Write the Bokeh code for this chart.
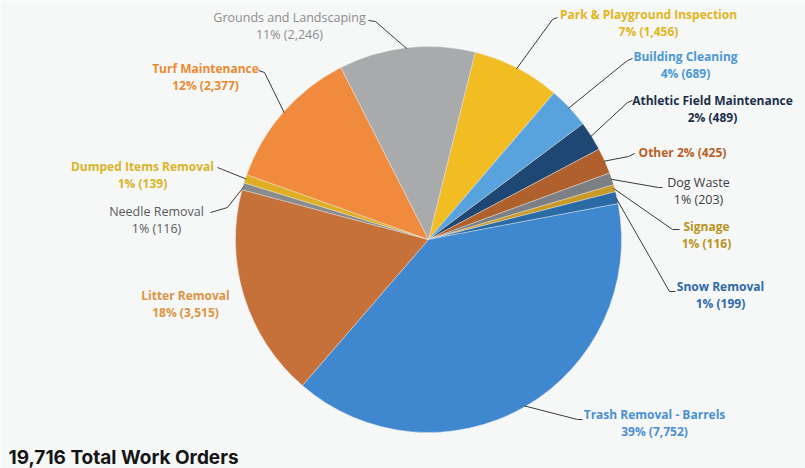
import math
from bokeh.plotting import figure
from bokeh.models import Range1d, ColumnDataSource
from bokeh.core.properties import value
from bokeh.embed import file_html
from bokeh.resources import INLINE

# ---- data (clockwise from the Park & Playground slice) ----
categories = ["Park & Playground Inspection", "Building Cleaning", "Athletic Field Maintenance",
              "Other", "Dog Waste", "Signage", "Snow Removal", "Trash Removal - Barrels",
              "Litter Removal", "Needle Removal", "Dumped Items Removal", "Turf Maintenance",
              "Grounds and Landscaping"]
counts = [1456, 689, 489, 425, 203, 116, 199, 7752, 3515, 116, 139, 2377, 2246]
percents = [7, 4, 2, 2, 1, 1, 1, 39, 18, 1, 1, 12, 11]
total_orders = 19716

slice_colors = ["#f2bd22", "#58a2dd", "#1f4773", "#b0602c", "#7c7f83", "#c99a25", "#2a6ba6",
                "#3f87cf", "#c7713a", "#8a8b8d", "#dfae22", "#f08a3c", "#a9aaac"]
label_colors = ["#e2b51c", "#4a98d6", "#1c2f4a", "#b85f26", "#3c3c3e", "#b89420", "#2f6aa8",
                "#4a8fd4", "#df9442", "#5a5a5c", "#d9b428", "#ec8a30", "#8c8c8e"]
bold_label = [True, True, True, True, False, True, True, True, True, False, True, True, False]

# ---- layout (page pixel coordinates, y down) ----
W, H = 805, 468
CX, CY, R = 428, 239, 193
START_DEG = 14  # clockwise from 12 o'clock

def Y(py):
    return H - py

# label centre x, first line y, leader hook start, leader elbow (None = no leader)
label_pos = [(648, 14), (685, 56), (712, 100), (682, 152), (698, 182), (706, 226), (720, 286),
             (654, 414), (185, 295), (156, 211), (142, 166), (205, 68), (289, 17)]
hook = [((557, 17), (552, 19)), ((632, 58), (627, 60)), ((632, 100), (627, 102)),
        ((634, 153), (628, 156)), ((662, 187), (658, 187)), ((679, 229), (672, 229)),
        ((675, 291), (669, 291)), ((582, 419), (577, 419)), None,
        ((210, 212), (227, 207)), ((217, 167), (222, 169)), ((258, 70), (264, 72)),
        ((368, 20), (375, 21))]

tot = sum(counts)
p = figure(width=W, height=H, output_backend="svg", toolbar_location=None,
           x_range=Range1d(0, W), y_range=Range1d(0, H),
           min_border=0, outline_line_color=None)
p.axis.visible = False
p.grid.visible = False
p.background_fill_color = "#f6f7f7"
p.border_fill_color = "#f6f7f7"

starts, ends, mids = [], [], []
acc = START_DEG
for c in counts:
    a0 = acc
    a1 = acc + c / tot * 360.0
    starts.append(math.radians(90 - a0))
    ends.append(math.radians(90 - a1))
    mids.append((a0 + a1) / 2)
    acc = a1

src = ColumnDataSource(dict(start=starts, end=ends, color=slice_colors))
p.wedge(x=CX, y=Y(CY), radius=R, start_angle="start", end_angle="end", direction="clock",
        fill_color="color", line_color="#eeeeee", line_width=0.4, source=src)

# leader lines
for i, h in enumerate(hook):
    if h is None:
        continue
    m = math.radians(mids[i])
    ex = CX + R * 0.995 * math.sin(m)
    ey = CY - R * 0.995 * math.cos(m)
    xs = [h[0][0], h[1][0], ex]
    ys = [Y(h[0][1]), Y(h[1][1]), Y(ey)]
    p.line(xs, ys, line_color="#3a3a3a", line_width=1)

FONT = "Open Sans"
for i, name in enumerate(categories):
    lx, ly = label_pos[i]
    if name == "Other":
        lines = [f"Other {percents[i]}% ({counts[i]:,})"]
    else:
        lines = [name, f"{percents[i]}% ({counts[i]:,})"]
    for k, t in enumerate(lines):
        p.text(x=[lx], y=[Y(ly + 16.5 * k)], text=[t], text_align="center", text_baseline="middle",
               text_font=value(FONT), text_font_size="12px" if bold_label[i] else "12.5px",
               text_color=label_colors[i],
               text_font_style="bold" if bold_label[i] else "normal")

p.text(x=[8], y=[Y(457)], text=[f"{total_orders:,} Total Work Orders"], text_align="left",
       text_baseline="middle", text_font=value("Inter"), text_font_size="19px",
       text_font_style="bold", text_color="#151515")

open("out.html", "w").write(file_html(p, INLINE))
